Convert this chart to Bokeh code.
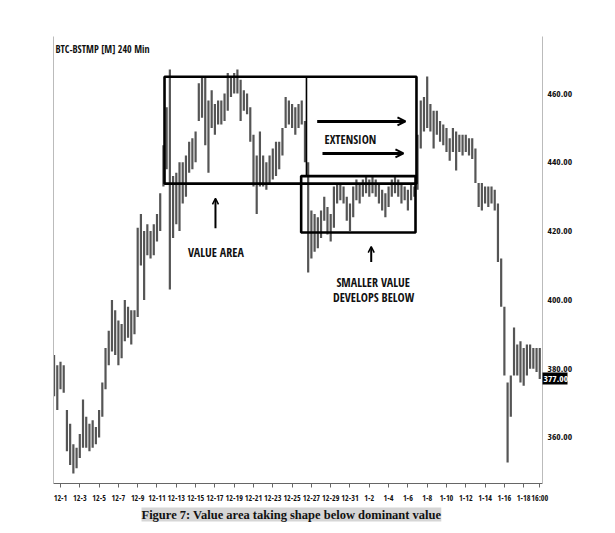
from bokeh.plotting import figure
from bokeh.models import (Range1d, LinearAxis, FixedTicker, Label, Arrow, OpenHead,
                          ColumnDataSource, PrintfTickFormatter, Title)
from bokeh.embed import file_html
from bokeh.resources import INLINE

# ---- data: 8-hour bars, x = days since 12-1 00:00 ----
bar_start = -2 / 3
bar_step = 1 / 3
bar_low = [372, 368, 374, 373, 356, 352, 349.5, 351, 354, 357, 357, 356,
           357, 358, 360, 366, 374, 381, 385, 384, 381, 383, 388, 389,
           387, 390, 395, 410, 400, 413, 412, 413, 417, 420, 433, 438,
           403, 418, 422, 420, 428, 430, 437, 438, 440, 452, 453, 445,
           437, 450, 448, 451, 451, 452, 455, 459, 460, 460, 452, 455,
           454, 446, 433, 425, 433, 433, 432, 434, 435, 436, 438, 442,
           450, 451, 450, 448, 450, 451, 440, 408, 412, 414, 415, 418,
           423, 419, 417, 421, 428, 429, 428, 423, 420, 424, 429, 428,
           430, 431, 430, 431, 430, 428, 426, 424, 427, 430, 431, 430,
           428, 429, 426, 429, 430, 432, 444, 449, 450, 449, 444, 448,
           446, 445, 443, 440.5, 443, 437.6, 443, 442, 443, 442, 441, 434,
           427, 426, 428, 427, 428, 426, 411, 398, 378, 352.7, 366, 378,
           378, 376, 375, 378, 380, 380, 379, 377]
bar_high = [384, 381, 382, 381, 368, 364, 358, 357, 361, 371, 366, 364,
            365, 363, 368, 376, 386, 391, 400, 397, 394, 393, 400, 398,
            397, 397, 421, 425, 420, 422, 420, 422, 425, 431, 445, 456,
            467, 436, 437, 440, 440, 442, 446, 447, 449, 463, 465, 465,
            458, 461, 457, 458, 458, 460, 466, 465, 466, 467, 464, 461,
            460, 456, 448, 442, 449, 442, 440, 442, 444, 446, 446, 450,
            459, 458, 457, 456, 457, 458, 452, 440, 426, 425, 424, 426,
            430, 427, 425, 433, 434, 434, 433, 430, 428, 433, 435, 434,
            435, 436, 435, 436, 435, 434, 432, 431, 433, 435, 436, 435,
            434, 433, 432, 434, 433, 448, 458, 459, 465, 457, 455, 455,
            452, 451, 450, 447, 450, 449, 448, 448, 448, 447, 447, 444,
            434, 434, 433, 433, 433, 432, 428, 412, 398, 376, 378, 392,
            387, 388, 386, 387, 387, 386, 386, 386]
bar_x = [bar_start + i * bar_step for i in range(len(bar_low))]

tick_pos = [0, 2, 4, 6, 8, 10, 12, 14, 16, 18, 20, 22, 24, 26, 28, 30,
            32, 34, 36, 38, 40, 42, 44, 46, 48, 49.67]
tick_lab = ["12-1", "12-3", "12-5", "12-7", "12-9", "12-11", "12-13", "12-15",
            "12-17", "12-19", "12-21", "12-23", "12-25", "12-27", "12-29", "12-31",
            "1-2", "1-4", "1-6", "1-8", "1-10", "1-12", "1-14", "1-16", "1-18", "16:00"]
price_ticks = [360, 380, 400, 420, 440, 460]
last_price = 377.0

# value areas (day offsets / prices)
va_x = [10.78, 36.89]
va_y = [433.8, 464.9]
va_split_x = 25.49
small_va_x = [24.94, 36.79]
small_va_y = [419.6, 436.0]

COND = "Open Sans Condensed"

p = figure(width=610, height=530, output_backend="svg", toolbar_location=None,
           x_range=Range1d(-0.725, 49.95), y_range=Range1d(346.6, 476.6),
           min_border_left=53, min_border_right=68, min_border_top=36,
           min_border_bottom=47, y_axis_location=None)
p.outline_line_color = None
p.grid.visible = False

# bottom date axis
xa = p.xaxis[0]
xa.ticker = FixedTicker(ticks=tick_pos)
xa.major_label_overrides = {t: l for t, l in zip(tick_pos, tick_lab)}
xa.major_label_text_font = COND
xa.major_label_text_font_style = "bold"
xa.major_label_text_font_size = "8px"
xa.major_label_text_color = "#111"
xa.major_tick_in = 0
xa.major_tick_out = 4
xa.minor_tick_out = 0
xa.minor_tick_in = 0
xa.axis_line_color = "#666"
xa.major_tick_line_color = "#666"
xa.major_label_standoff = 4

# right side, axis A: border line + last-price marker (black box, white text)
wA = 24  # approx. width of one price label
ma = LinearAxis(ticker=FixedTicker(ticks=[last_price]), formatter=PrintfTickFormatter(format="%.2f"))
ma.axis_line_color = "#bbb"
ma.major_tick_in = 0
ma.major_tick_out = wA + 1
ma.major_tick_line_width = 12
ma.major_tick_line_color = "black"
ma.major_tick_line_cap = "butt"
ma.minor_tick_in = 0
ma.minor_tick_out = 0
ma.major_label_standoff = -wA
ma.major_label_text_font = COND
ma.major_label_text_font_style = "bold"
ma.major_label_text_font_size = "9.5px"
ma.major_label_text_color = "white"
p.add_layout(ma, "right")

# axis B: price labels, pulled back next to the border line
ra = LinearAxis(ticker=FixedTicker(ticks=price_ticks), formatter=PrintfTickFormatter(format="%.2f"))
ra.major_label_text_font = COND
ra.major_label_text_font_style = "bold"
ra.major_label_text_font_size = "9.5px"
ra.major_label_text_color = "#111"
ra.major_tick_in = 0
ra.major_tick_out = 0
ra.minor_tick_in = 0
ra.minor_tick_out = 0
ra.axis_line_color = None
ra.major_label_standoff = -wA
p.add_layout(ra, "right")

# left border line
la = LinearAxis(ticker=FixedTicker(ticks=[]))
la.major_label_text_font_size = "0px"
la.major_tick_in = 0
la.major_tick_out = 0
la.minor_tick_in = 0
la.minor_tick_out = 0
la.axis_line_color = "#bbb"
p.add_layout(la, "left")

# price bars
src = ColumnDataSource(dict(x=bar_x, lo=bar_low, hi=bar_high))
p.segment(x0="x", y0="lo", x1="x", y1="hi", source=src, line_color="#555555", line_width=2.2)

# value area boxes
p.quad(left=[va_x[0]], right=[va_x[1]], bottom=[va_y[0]], top=[va_y[1]],
       fill_color=None, line_color="black", line_width=2.6)
p.segment(x0=[va_split_x], y0=[small_va_y[1]], x1=[va_split_x], y1=[va_y[1]],
          line_color="black", line_width=1.6)
p.quad(left=[small_va_x[0]], right=[small_va_x[1]], bottom=[small_va_y[0]], top=[small_va_y[1]],
       fill_color=None, line_color="black", line_width=2.6)

# arrows
p.add_layout(Arrow(x_start=26.6, y_start=451.9, x_end=35.75, y_end=451.9, line_width=3,
                   end=OpenHead(size=8, line_width=2)))
p.add_layout(Arrow(x_start=27.15, y_start=442.6, x_end=35.54, y_end=442.6, line_width=3,
                   end=OpenHead(size=8, line_width=2)))
p.add_layout(Arrow(x_start=16.06, y_start=420.8, x_end=16.06, y_end=429.5, line_width=2,
                   end=OpenHead(size=6, line_width=1.5)))
p.add_layout(Arrow(x_start=32.2, y_start=411.0, x_end=32.2, y_end=415.5, line_width=2,
                   end=OpenHead(size=6, line_width=1.5)))

def note(x, y, t, size="12px"):
    p.add_layout(Label(x=x, y=y, text=t, text_font=COND, text_font_style="bold",
                       text_font_size=size, text_align="center", text_baseline="middle",
                       text_color="#111"))

note(30.05, 446.6, "EXTENSION")
note(16.1, 413.9, "VALUE AREA")
note(32.4, 405.1, "SMALLER VALUE")
note(32.45, 400.6, "DEVELOPS BELOW")

# chart title (top-left inside the frame)
p.add_layout(Label(x=2, y=435, x_units="screen", y_units="screen", text="BTC-BSTMP [M] 240 Min",
                   text_font=COND, text_font_style="bold", text_font_size="10px",
                   text_baseline="middle", text_color="#111"))

# caption
cap = Title(text="Figure 7: Value area taking shape below dominant value", align="left",
            offset=88, standoff=0, text_font="Liberation Serif", text_font_style="bold",
            text_font_size="12.5px", text_color="#111", background_fill_color="#d6d6d6")
p.add_layout(cap, "below")

open("out.html", "w").write(file_html(p, INLINE))
